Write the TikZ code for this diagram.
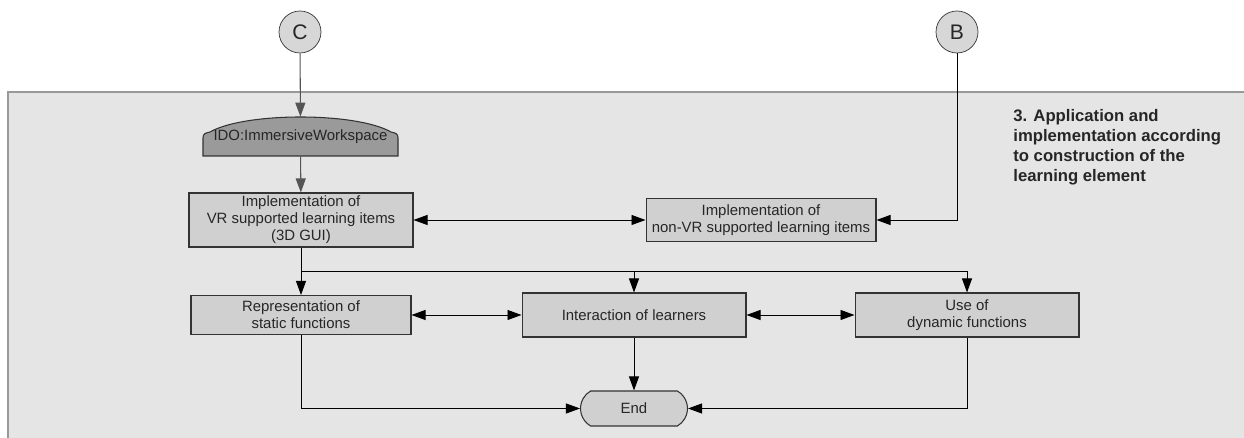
\documentclass[tikz,border=0pt]{standalone}
\usepackage{xcolor}
\usepackage{fontspec}
\setmainfont{Liberation Sans}
\usepackage{tikz}
\usetikzlibrary{shapes,arrows.meta,positioning,calc}

\definecolor{panelgrey}{HTML}{E5E5E5}
\definecolor{boxgrey}{HTML}{D0D0D0}
\definecolor{idogrey}{HTML}{9A9A9A}
\definecolor{linegrey}{HTML}{555555}

\begin{document}
\begin{tikzpicture}[x=0.02cm, y=0.02cm,
    tip/.style={-{Triangle[length=0.28cm,width=0.2cm]}},
    tips/.style={{Triangle[length=0.28cm,width=0.2cm]}-{Triangle[length=0.28cm,width=0.2cm]}},
    conn/.style={draw=black, line width=0.5pt},
    item/.style={rectangle, draw=black!80, fill=boxgrey, line width=0.6pt, align=center,
        text=black!85, font=\fontsize{8.5}{9.7}\selectfont, inner sep=0pt},
    jump/.style={circle, draw=black!80, fill=boxgrey!85, minimum size=0.84cm, inner sep=0pt,
        text=black!85, font=\fontsize{12}{14}\selectfont}]
    \useasboundingbox (0,0) rectangle (1244,438);

    % Panel
    \fill[panelgrey] (8,0) rectangle (1244,346);
    \draw[black!40, line width=0.8pt] (8,0) -- (8,346) -- (1244,346);
    \node[anchor=north west, align=left, inner sep=0pt, text=black!85,
        font=\bfseries\fontsize{9.5}{11.4}\selectfont] (title) at (1013,329)
        {3. Application and\\implementation according\\to construction of the\\learning element};

    % Connectors in
    \node[jump] (C) at (300,406) {C};
    \node[jump] (B) at (957,406) {B};

    % Workspace
    \draw[draw=black!80, fill=idogrey, line width=0.6pt] (203,282) -- (203,300)
        .. controls (203,304) and (205,305) .. (210,306)
        .. controls (245,326) and (356,326) .. (391,306)
        .. controls (396,305) and (398,304) .. (398,300) -- (398,282) -- cycle;
    \node[inner sep=0pt, minimum width=3.9cm, minimum height=0.78cm, text=black!85,
        font=\fontsize{8.5}{9.7}\selectfont] (ido) at (300.5,301.5) {\raisebox{1.5pt}{IDO:ImmersiveWorkspace}};

    % Items
    \node[item, minimum width=4.48cm, minimum height=1.08cm] (vr) at (301,218)
        {Implementation of\\VR supported learning items\\(3D GUI)};
    \node[item, minimum width=4.6cm, minimum height=0.86cm] (nonvr) at (761,218)
        {Implementation of\\non-VR supported learning items};
    \node[item, minimum width=4.4cm, minimum height=0.78cm] (rep) at (301,123)
        {Representation of\\static functions};
    \node[item, minimum width=4.48cm, minimum height=0.88cm] (inter) at (634,123)
        {Interaction of learners};
    \node[item, minimum width=4.48cm, minimum height=0.88cm] (use) at (967,123)
        {Use of\\dynamic functions};
    \node[rounded rectangle, rounded rectangle arc length=120, draw=black!80, fill=boxgrey,
        line width=0.6pt, minimum width=2.14cm, minimum height=0.7cm, inner sep=0pt,
        text=black!85, font=\fontsize{8.5}{9.7}\selectfont] (end) at (634,29.5) {End};

    \coordinate (fork) at (0,167);

    % Arrows
    \draw[linegrey, line width=0.6pt, tip] (C) -- (ido);
    \draw[linegrey, line width=0.6pt, tip] (ido) -- (vr);
    \draw[conn, tips] (vr.east) -- (vr.east -| nonvr.west);
    \draw[conn, tip] (B.south) |- (nonvr.east);
    \draw[conn, tip] (vr.south) -- (rep.north);
    \draw[conn, tip] (vr.south |- fork) -| (inter.north);
    \draw[conn, tip] (vr.south |- fork) -| (use.north);
    \draw[conn, tips] (rep.east) -- (rep.east -| inter.west);
    \draw[conn, tips] (inter.east) -- (inter.east -| use.west);
    \draw[conn, tip] (rep.south) |- (end.west);
    \draw[conn, tip] (use.south) |- (end.east);
    \draw[conn, tip] (inter.south) -- (end.north);
\end{tikzpicture}
\end{document}
